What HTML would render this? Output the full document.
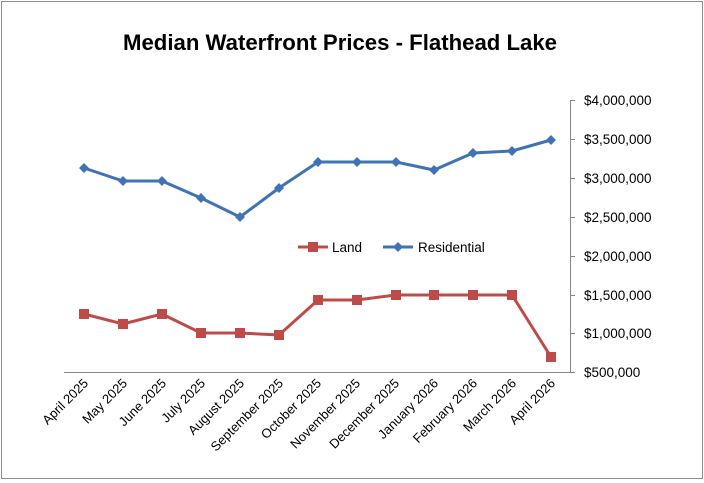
<!DOCTYPE html>
<html><head><meta charset="utf-8"><style>
body{margin:0;background:#fff}
svg{display:block;font-family:"Liberation Sans",sans-serif}
</style></head><body>
<svg width="704" height="483" viewBox="0 0 704 483">
<rect x="1.5" y="1.5" width="701" height="477" fill="#fff" stroke="#8c8c8c" stroke-width="1"/>
<text x="340" y="50" text-anchor="middle" font-size="22" font-weight="bold" fill="#000" textLength="434" lengthAdjust="spacingAndGlyphs">Median Waterfront Prices - Flathead Lake</text>
<g stroke="#868686" stroke-width="1">
<line x1="64" y1="372.5" x2="570" y2="372.5"/>
<line x1="570.5" y1="100" x2="570.5" y2="372"/>
<line x1="570" y1="100.5" x2="575" y2="100.5"/>
<line x1="570" y1="139.5" x2="575" y2="139.5"/>
<line x1="570" y1="178.5" x2="575" y2="178.5"/>
<line x1="570" y1="217.5" x2="575" y2="217.5"/>
<line x1="570" y1="256.5" x2="575" y2="256.5"/>
<line x1="570" y1="295.5" x2="575" y2="295.5"/>
<line x1="570" y1="333.5" x2="575" y2="333.5"/>
<line x1="570" y1="372.5" x2="575" y2="372.5"/>
</g>
<g font-size="13.5" fill="#000">
<text x="584" y="105">$4,000,000</text>
<text x="584" y="144">$3,500,000</text>
<text x="584" y="183">$3,000,000</text>
<text x="584" y="222">$2,500,000</text>
<text x="584" y="261">$2,000,000</text>
<text x="584" y="300">$1,500,000</text>
<text x="584" y="338">$1,000,000</text>
<text x="584" y="377">$500,000</text>
</g>
<g font-size="13" fill="#000" text-anchor="end">
<text transform="translate(89,384) rotate(-45)">April 2025</text>
<text transform="translate(128,384) rotate(-45)">May 2025</text>
<text transform="translate(167,384) rotate(-45)">June 2025</text>
<text transform="translate(206,384) rotate(-45)">July 2025</text>
<text transform="translate(245,384) rotate(-45)">August 2025</text>
<text transform="translate(284,384) rotate(-45)">September 2025</text>
<text transform="translate(322,384) rotate(-45)">October 2025</text>
<text transform="translate(361,384) rotate(-45)">November 2025</text>
<text transform="translate(400,384) rotate(-45)">December 2025</text>
<text transform="translate(439,384) rotate(-45)">January 2026</text>
<text transform="translate(478,384) rotate(-45)">February 2026</text>
<text transform="translate(517,384) rotate(-45)">March 2026</text>
<text transform="translate(556,384) rotate(-45)">April 2026</text>
</g>
<polyline fill="none" stroke="#3f73b6" stroke-width="3" points="84,168 123,181 162,181 201,198 240,217 279,188 318,162 357,162 396,162 434,170 473,153 512,151 551,140"/>
<g fill="#3f73b6">
<path d="M84,163l5,5l-5,5l-5,-5z M123,176l5,5l-5,5l-5,-5z M162,176l5,5l-5,5l-5,-5z M201,193l5,5l-5,5l-5,-5z M240,212l5,5l-5,5l-5,-5z M279,183l5,5l-5,5l-5,-5z M318,157l5,5l-5,5l-5,-5z M357,157l5,5l-5,5l-5,-5z M396,157l5,5l-5,5l-5,-5z M434,165l5,5l-5,5l-5,-5z M473,148l5,5l-5,5l-5,-5z M512,146l5,5l-5,5l-5,-5z M551,135l5,5l-5,5l-5,-5z"/>
</g>
<polyline fill="none" stroke="#be4b48" stroke-width="3" points="84,314 123,324 162,314 201,333 240,333 279,335 318,300 357,300 396,295 434,295 473,295 512,295 551,357"/>
<g fill="#be4b48">
<rect x="79" y="309" width="10" height="10"/><rect x="118" y="319" width="10" height="10"/><rect x="157" y="309" width="10" height="10"/><rect x="196" y="328" width="10" height="10"/><rect x="235" y="328" width="10" height="10"/><rect x="274" y="330" width="10" height="10"/><rect x="313" y="295" width="10" height="10"/><rect x="352" y="295" width="10" height="10"/><rect x="391" y="290" width="10" height="10"/><rect x="429" y="290" width="10" height="10"/><rect x="468" y="290" width="10" height="10"/><rect x="507" y="290" width="10" height="10"/><rect x="546" y="352" width="10" height="10"/>
</g>
<line x1="298" y1="247" x2="328" y2="247" stroke="#be4b48" stroke-width="3"/>
<rect x="308" y="242" width="10" height="10" fill="#be4b48"/>
<text x="332" y="252" font-size="13.5">Land</text>
<line x1="383" y1="247" x2="413" y2="247" stroke="#3f73b6" stroke-width="3"/>
<path d="M398,242l5,5l-5,5l-5,-5z" fill="#3f73b6"/>
<text x="418" y="252" font-size="13.5">Residential</text>
</svg>
</body></html>
